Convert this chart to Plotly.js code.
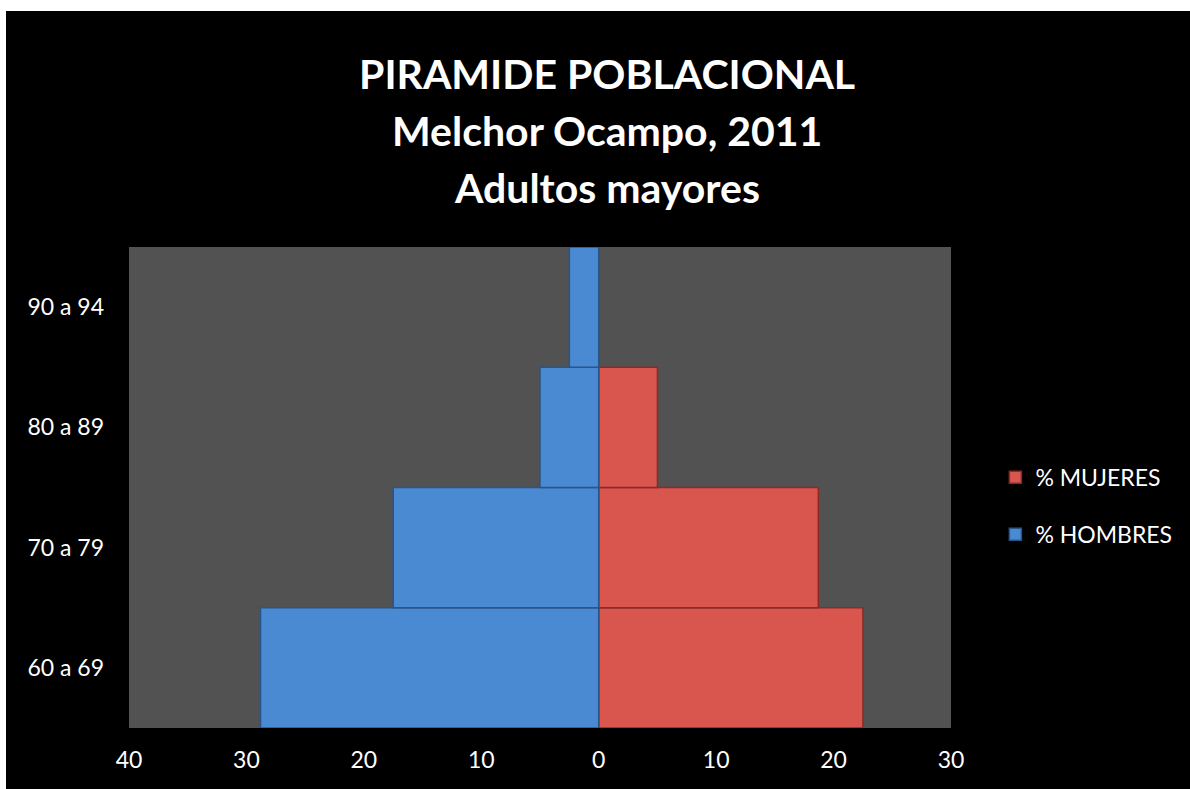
<!DOCTYPE html>
<html>
<head>
<meta charset="utf-8">
<script src="https://cdn.plot.ly/plotly-3.0.1.min.js"></script>
<style>
  html, body { margin: 0; padding: 0; background: #ffffff; }
  #chart { position: absolute; left: 6px; top: 11px; width: 1184px; height: 778px; }
</style>
</head>
<body>
<div id="chart"></div>
<script>
// Data
var ageGroups = ["60 a 69", "70 a 79", "80 a 89", "90 a 94"];
var pctHombres = [28.8, 17.5, 5.0, 2.5];
var pctMujeres = [22.5, 18.7, 5.0, 0];
var xTickValues = [-40, -30, -20, -10, 0, 10, 20, 30];
var xTickLabels = ["40", "30", "20", "10", "0", "10", "20", "30"];
var titleLines = ["PIRAMIDE POBLACIONAL", "Melchor Ocampo, 2011", "Adultos mayores"];

var FONT = "Lato, 'Open Sans', sans-serif";

var traceMujeres = {
  type: "bar",
  orientation: "h",
  name: "% MUJERES",
  y: ageGroups,
  x: pctMujeres,
  legendgroup: "m",
  marker: { color: "#D9564E", line: { color: "#8A2B26", width: 1.5 } },
  hoverinfo: "skip"
};
var traceHombres = {
  type: "bar",
  orientation: "h",
  name: "% HOMBRES",
  y: ageGroups,
  x: pctHombres.map(function (v) { return -v; }),
  legendgroup: "h",
  marker: { color: "#4A8AD3", line: { color: "#2A5588", width: 1.5 } },
  hoverinfo: "skip"
};

var titleY = [73, 130, 188];
var annotations = titleLines.map(function (t, i) {
  return {
    text: "<b>" + t + "</b>",
    xref: "paper", yref: "paper",
    x: (607 - 6 - 123) / 822,
    y: (717 - (titleY[i] - 11)) / 481,
    xanchor: "center", yanchor: "middle",
    showarrow: false,
    font: { family: FONT, size: 41, color: "#ffffff" }
  };
});

var layout = {
  width: 1184,
  height: 778,
  paper_bgcolor: "#000000",
  plot_bgcolor: "#525252",
  margin: { l: 123, r: 239, t: 236, b: 61, pad: 0 },
  barmode: "relative",
  bargap: 0,
  showlegend: true,
  legend: {
    x: 1.054, y: 0.462, xanchor: "left", yanchor: "middle",
    traceorder: "grouped", tracegroupgap: 24,
    font: { family: FONT, size: 23, color: "#ffffff" },
    bgcolor: "rgba(0,0,0,0)"
  },
  xaxis: {
    range: [-40, 30],
    tickvals: xTickValues,
    ticktext: xTickLabels,
    showgrid: false,
    zeroline: false,
    showline: false,
    ticks: "",
    ticklabelstandoff: 16,
    tickfont: { family: FONT, size: 23, color: "#ffffff" },
    fixedrange: true
  },
  yaxis: {
    type: "category",
    categoryorder: "array",
    categoryarray: ageGroups,
    showgrid: false,
    zeroline: false,
    showline: false,
    ticks: "",
    ticklabelstandoff: 24,
    tickfont: { family: FONT, size: 23, color: "#ffffff" },
    fixedrange: true
  },
  annotations: annotations
};

Plotly.newPlot("chart", [traceMujeres, traceHombres], layout, { displayModeBar: false, staticPlot: true });
</script>
</body>
</html>
